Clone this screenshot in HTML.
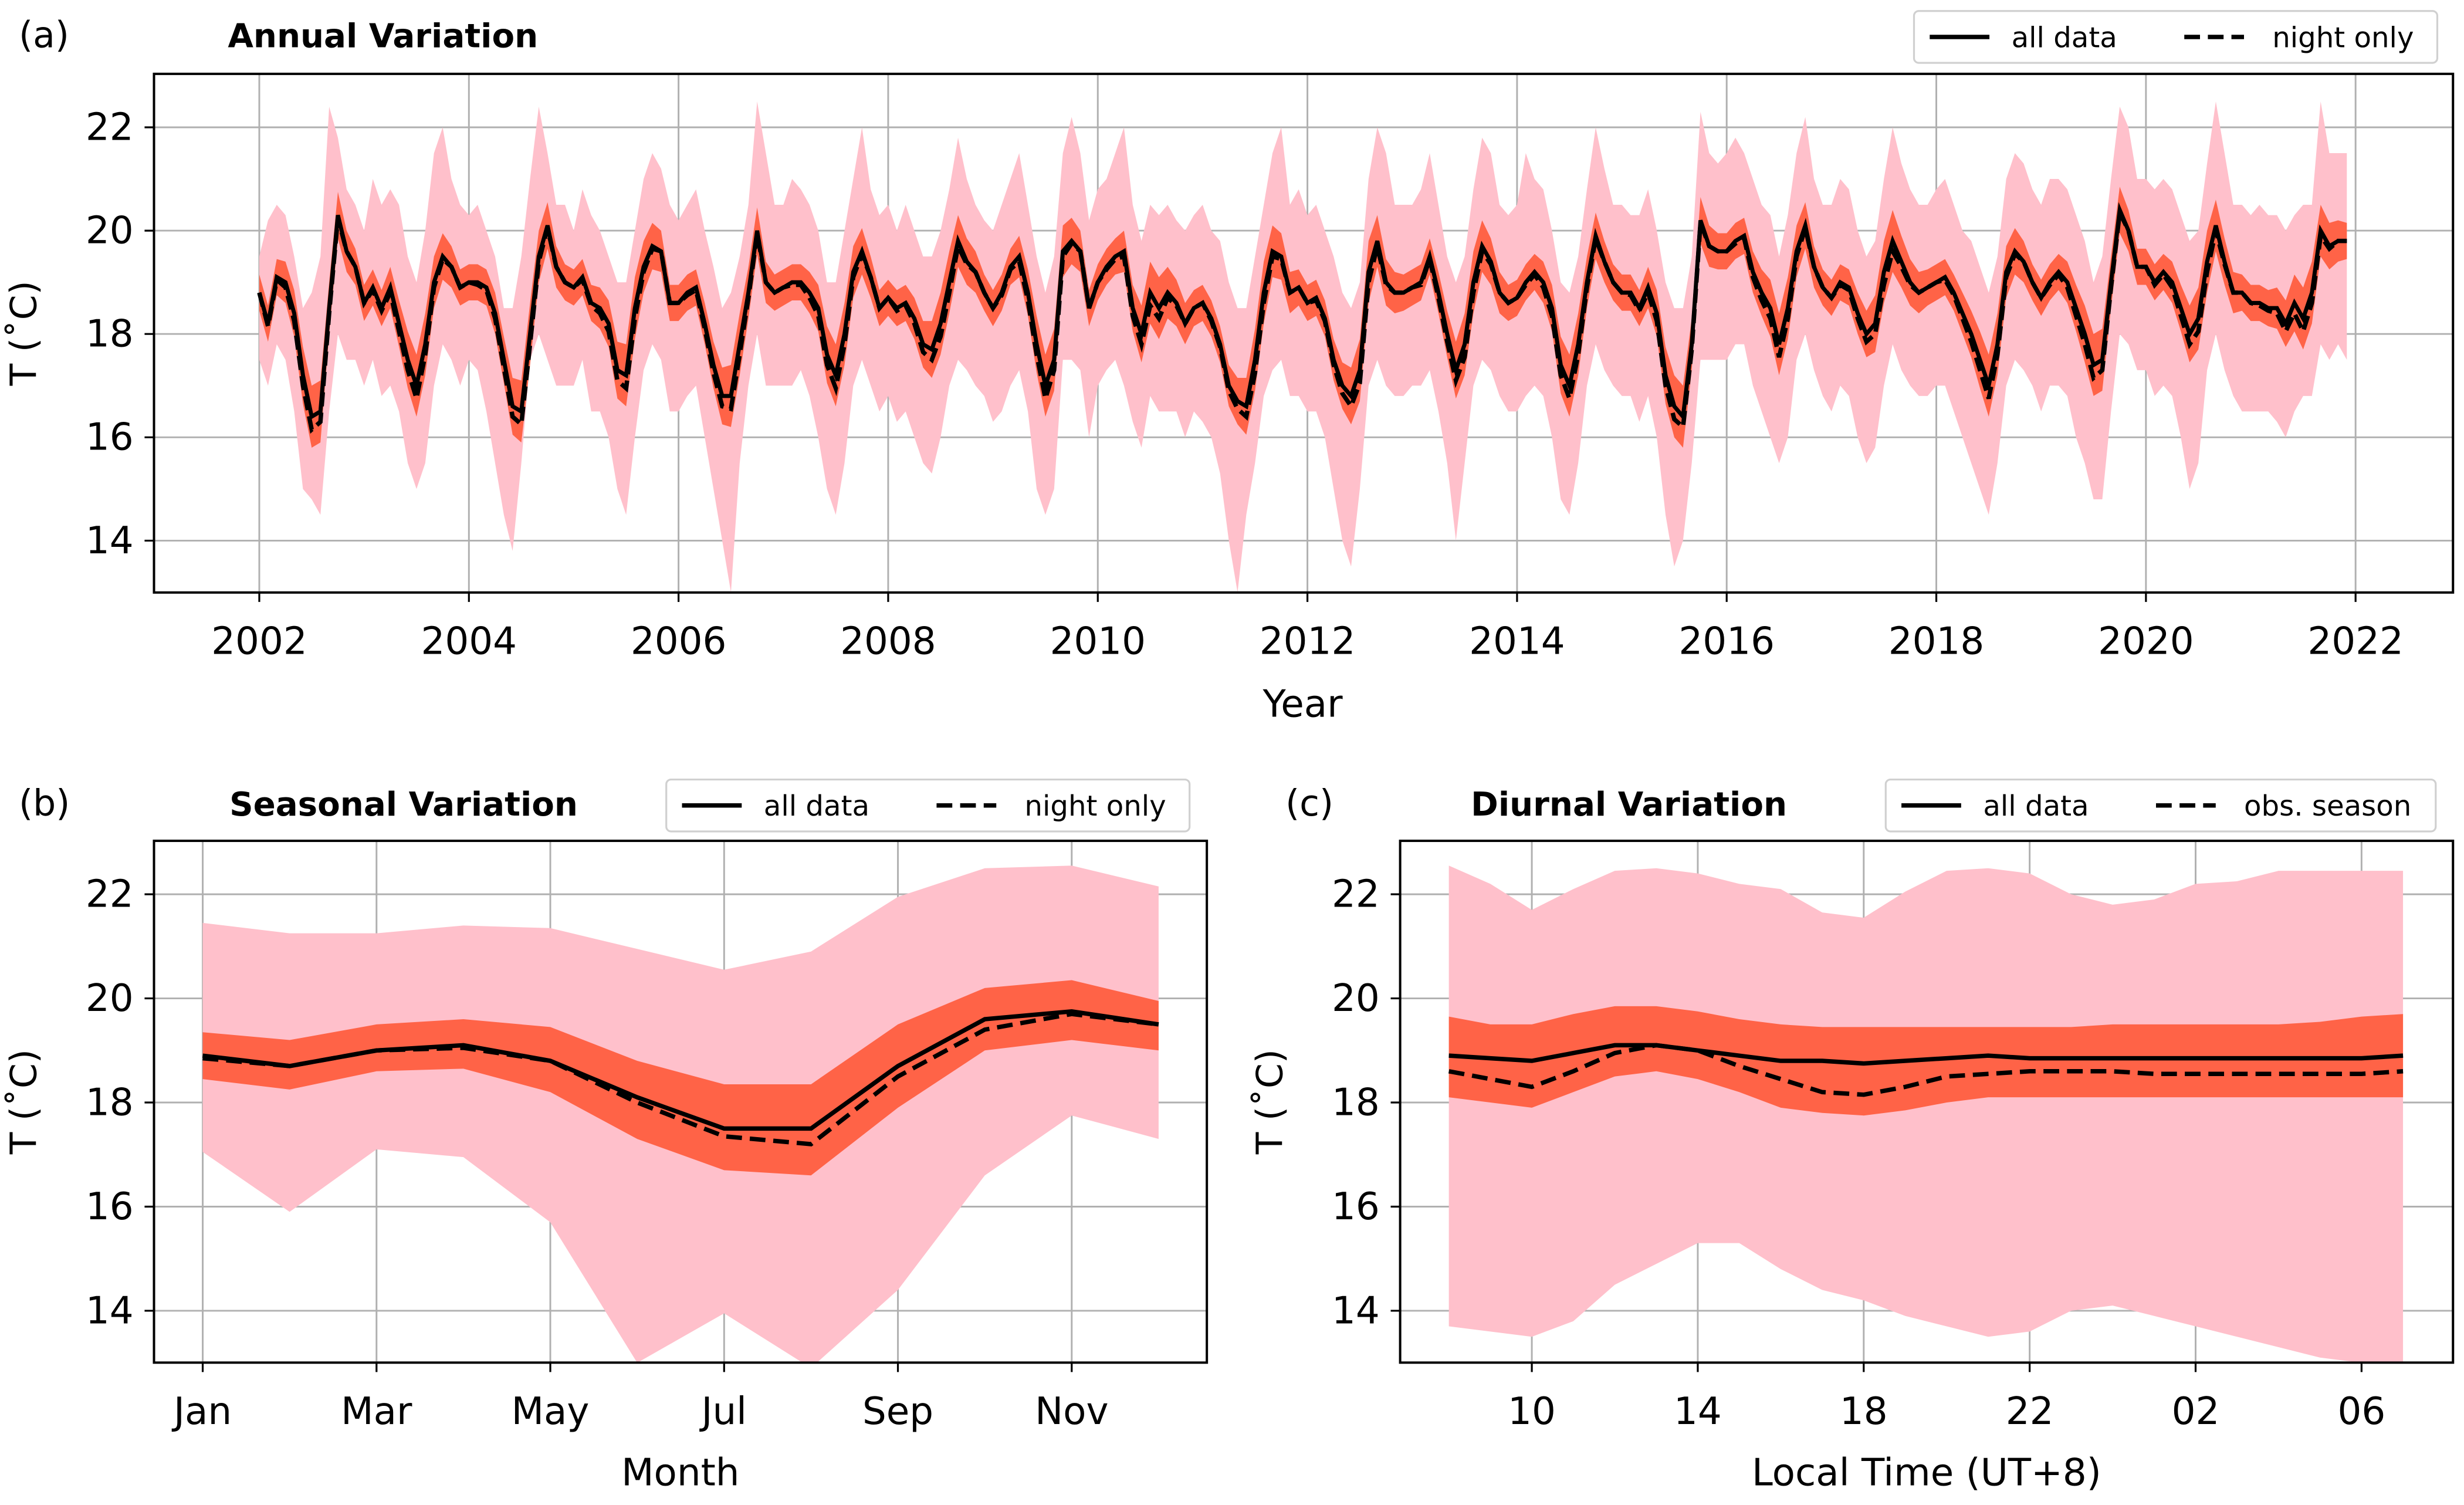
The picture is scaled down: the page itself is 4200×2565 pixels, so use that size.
<!DOCTYPE html>
<html><head><meta charset="utf-8"><style>
html,body{margin:0;padding:0;background:#fff;}
svg{display:block;font-family:"DejaVu Sans","Liberation Sans",sans-serif;}
</style></head><body>
<svg id="fig" width="4200" height="2565" viewBox="0 0 1568 957.6" xmlns="http://www.w3.org/2000/svg">
<defs>
<clipPath id="clipA"><rect x="98" y="47" width="1463" height="330"/></clipPath>
<clipPath id="clipB"><rect x="98" y="535" width="670" height="332"/></clipPath>
<clipPath id="clipC"><rect x="891" y="535" width="670" height="332"/></clipPath>
</defs>
<rect x="0" y="0" width="1568" height="957.6" fill="#fff"/>
<g id="gA"></g>
<g id="gB"></g>
<g id="gC"></g>
</svg>
<script>
// ---------- Panel (a) data ----------
const annualYears = [2002,2003,2004,2005,2006,2007,2008,2009,2010,2011,2012,2013,2014,2015,2016,2017,2018,2019,2020,2021];
const annualMean = [
18.8,18.2,19.1,19.0,18.4,17.2,16.4,16.5,18.5,20.3,19.6,19.3,
18.6,18.9,18.5,18.9,18.2,17.5,17.0,17.8,19.0,19.5,19.3,18.9,
19.0,19.0,18.9,18.4,17.5,16.6,16.5,18.0,19.5,20.1,19.3,19.0,
18.9,19.1,18.6,18.5,18.2,17.3,17.2,18.5,19.3,19.7,19.6,18.6,
18.6,18.8,18.9,18.2,17.4,16.8,16.8,17.8,18.8,20.0,19.0,18.8,
18.9,19.0,19.0,18.8,18.5,17.6,17.2,18.0,19.2,19.6,19.1,18.5,
18.7,18.5,18.6,18.3,17.8,17.7,18.2,19.0,19.8,19.4,19.2,18.8,
18.5,18.8,19.3,19.5,18.8,17.8,17.0,17.5,19.6,19.8,19.6,18.5,
19.0,19.3,19.5,19.6,18.5,18.0,18.8,18.5,18.8,18.6,18.2,18.5,
18.6,18.3,17.8,17.0,16.7,16.6,17.5,18.8,19.6,19.5,18.8,18.9,
18.6,18.7,18.3,17.5,17.0,16.8,17.3,19.2,19.8,19.0,18.8,18.8,
18.9,19.0,19.5,18.8,18.0,17.3,17.8,19.0,19.7,19.4,18.8,18.6,
18.7,19.0,19.2,19.0,18.5,17.4,17.0,17.8,19.0,19.9,19.4,19.0,
18.8,18.8,18.5,18.9,18.4,17.2,16.6,16.4,17.8,20.2,19.7,19.6,
19.6,19.8,19.9,19.2,18.8,18.5,17.8,18.5,19.6,20.1,19.3,18.9,
18.7,19.0,18.9,18.4,18.0,18.2,19.2,19.8,19.4,19.0,18.8,18.9,
19.0,19.1,18.8,18.4,18.0,17.5,17.0,17.8,19.2,19.6,19.4,19.0,
18.7,19.0,19.2,19.0,18.5,18.0,17.4,17.5,19.0,20.4,20.0,19.3,
19.3,19.0,19.2,19.0,18.5,18.0,18.3,19.4,20.1,19.4,18.8,18.8,
18.6,18.6,18.5,18.5,18.2,18.6,18.3,18.8,20.0,19.7,19.8,19.8];
const annualNightOffset = [0,-0.05,-0.05,-0.1,-0.15,-0.2,-0.25,-0.2,-0.1,-0.05,0,0];
const annualDarkWidth = [0.35,0.35,0.35,0.4,0.45,0.55,0.6,0.6,0.5,0.45,0.4,0.35];
const annualPinkHi = [
19.5,20.2,20.5,20.3,19.5,18.5,18.8,19.5,22.4,21.8,20.8,20.5,
20.0,21.0,20.5,20.8,20.5,19.5,19.0,20.0,21.5,22.0,21.0,20.5,
20.3,20.5,20.0,19.5,18.5,18.5,19.5,21.0,22.4,21.5,20.5,20.5,
20.0,20.8,20.3,20.0,19.5,19.0,19.0,20.0,21.0,21.5,21.2,20.5,
20.2,20.5,20.8,20.0,19.3,18.5,18.8,19.5,20.5,22.5,21.5,20.5,
20.5,21.0,20.8,20.5,20.0,19.0,19.0,20.0,21.0,22.0,20.8,20.3,
20.5,20.0,20.5,20.0,19.5,19.5,20.0,20.8,21.8,21.0,20.5,20.2,
20.0,20.5,21.0,21.5,20.5,19.5,18.8,19.5,21.5,22.2,21.5,20.2,
20.8,21.0,21.5,22.0,20.5,19.8,20.5,20.3,20.5,20.2,20.0,20.3,
20.5,20.0,19.8,19.0,18.5,18.5,19.5,20.5,21.5,22.0,20.5,20.8,
20.3,20.5,20.0,19.5,18.8,18.5,19.0,21.0,22.0,21.5,20.5,20.5,
20.5,20.8,21.5,20.5,19.5,19.0,19.5,20.8,21.8,21.5,20.5,20.3,
20.5,21.5,21.0,20.8,20.0,19.0,18.8,19.5,20.8,22.0,21.2,20.5,
20.5,20.3,20.3,20.8,20.0,19.0,18.5,18.5,19.5,22.3,21.5,21.3,
21.5,21.8,21.5,21.0,20.5,20.3,19.5,20.3,21.5,22.2,21.0,20.5,
20.5,21.0,20.8,20.0,19.5,19.8,21.0,22.0,21.3,20.8,20.5,20.5,
20.8,21.0,20.5,20.0,19.8,19.3,18.8,19.5,21.0,21.5,21.3,20.8,
20.5,21.0,21.0,20.8,20.3,19.8,19.0,19.5,21.0,22.4,22.0,21.0,
21.0,20.8,21.0,20.8,20.3,19.8,20.0,21.3,22.5,21.5,20.5,20.5,
20.3,20.5,20.3,20.3,20.0,20.3,20.5,20.5,22.5,21.5,21.5,21.5];
const annualPinkLo = [
17.5,17.0,17.8,17.5,16.5,15.0,14.8,14.5,16.5,18.0,17.5,17.5,
17.0,17.5,16.8,17.0,16.5,15.5,15.0,15.5,17.0,17.8,17.5,17.0,
17.5,17.3,16.5,15.5,14.5,13.8,15.5,17.5,18.0,17.5,17.0,17.0,
17.0,17.5,16.5,16.5,16.0,15.0,14.5,16.0,17.3,17.8,17.5,16.5,
16.5,16.8,17.0,16.0,15.0,14.0,13.0,15.5,17.0,18.0,17.0,17.0,
17.0,17.0,17.3,16.8,16.0,15.0,14.5,15.5,17.0,17.5,17.0,16.5,
16.8,16.3,16.5,16.0,15.5,15.3,16.0,17.0,17.5,17.3,17.0,16.8,
16.3,16.5,17.0,17.3,16.5,15.0,14.5,15.0,17.5,17.5,17.3,16.0,
17.0,17.3,17.5,17.0,16.3,15.8,16.8,16.5,16.5,16.5,16.0,16.5,
16.3,16.0,15.3,14.0,13.0,14.5,15.5,16.8,17.3,17.5,16.8,16.8,
16.5,16.5,16.0,15.0,14.0,13.5,15.0,17.0,17.5,17.0,16.8,16.8,
17.0,17.0,17.3,16.5,15.5,14.0,15.5,17.0,17.5,17.3,16.8,16.5,
16.5,16.8,17.0,16.8,16.0,14.8,14.5,15.5,17.0,17.8,17.3,17.0,
16.8,16.8,16.3,16.8,16.0,14.5,13.5,14.0,15.5,17.5,17.5,17.5,
17.5,17.8,17.8,17.0,16.5,16.0,15.5,16.0,17.5,18.0,17.3,16.8,
16.5,17.0,16.8,16.0,15.5,15.8,17.0,17.8,17.3,17.0,16.8,16.8,
17.0,17.0,16.5,16.0,15.5,15.0,14.5,15.5,17.0,17.5,17.3,17.0,
16.5,17.0,17.0,16.8,16.0,15.5,14.8,14.8,16.5,18.0,17.8,17.3,
17.3,16.8,17.0,16.8,16.0,15.0,15.5,17.3,18.0,17.3,16.8,16.5,
16.5,16.5,16.5,16.3,16.0,16.5,16.8,16.8,17.8,17.5,17.8,17.5];
const annualXTicks = [2002,2004,2006,2008,2010,2012,2014,2016,2018,2020,2022];
const tempTicks = [14,16,18,20,22];

// ---------- Panel (b) data ----------
const monthLabels = ["Jan","Mar","May","Jul","Sep","Nov"];
const monthTickIdx = [0,2,4,6,8,10];
const seasMean  = [18.9,18.7,19.0,19.1,18.8,18.1,17.5,17.5,18.7,19.6,19.75,19.5];
const seasNight = [18.85,18.7,19.0,19.05,18.8,18.0,17.35,17.2,18.5,19.4,19.7,19.5];
const seasDarkHi = [19.35,19.2,19.5,19.6,19.45,18.8,18.35,18.35,19.5,20.2,20.35,19.95];
const seasDarkLo = [18.45,18.25,18.6,18.65,18.2,17.3,16.7,16.6,17.9,19.0,19.2,19.0];
const seasPinkHi = [21.45,21.25,21.25,21.4,21.35,20.95,20.55,20.9,21.95,22.5,22.55,22.15];
const seasPinkLo = [17.05,15.9,17.1,16.95,15.7,13.0,13.95,12.9,14.4,16.6,17.75,17.3];

// ---------- Panel (c) data ----------
const hours = [8,9,10,11,12,13,14,15,16,17,18,19,20,21,22,23,24,25,26,27,28,29,30,31];
const hourTickVals = [10,14,18,22,26,30];
const hourTickLabels = ["10","14","18","22","02","06"];
const diurMean = [18.9,18.85,18.8,18.95,19.1,19.1,19.0,18.9,18.8,18.8,18.75,18.8,18.85,18.9,18.85,18.85,18.85,18.85,18.85,18.85,18.85,18.85,18.85,18.9];
const diurObs  = [18.6,18.45,18.3,18.6,18.95,19.1,19.0,18.7,18.45,18.2,18.15,18.3,18.5,18.55,18.6,18.6,18.6,18.55,18.55,18.55,18.55,18.55,18.55,18.6];
const diurDarkHi = [19.65,19.5,19.5,19.7,19.85,19.85,19.75,19.6,19.5,19.45,19.45,19.45,19.45,19.45,19.45,19.45,19.5,19.5,19.5,19.5,19.5,19.55,19.65,19.7];
const diurDarkLo = [18.1,18.0,17.9,18.2,18.5,18.6,18.45,18.2,17.9,17.8,17.75,17.85,18.0,18.1,18.1,18.1,18.1,18.1,18.1,18.1,18.1,18.1,18.1,18.1];
const diurPinkHi = [22.55,22.2,21.7,22.1,22.45,22.5,22.4,22.2,22.1,21.65,21.55,22.05,22.45,22.5,22.4,22.0,21.8,21.9,22.2,22.25,22.45,22.45,22.45,22.45];
const diurPinkLo = [13.7,13.6,13.5,13.8,14.5,14.9,15.3,15.3,14.8,14.4,14.2,13.9,13.7,13.5,13.6,14.0,14.1,13.9,13.7,13.5,13.3,13.1,13.0,13.0];

const NS="http://www.w3.org/2000/svg";
function mk(parent,tag,attrs,text){const e=document.createElementNS(NS,tag);for(const k in attrs)e.setAttribute(k,attrs[k]);if(text!==undefined)e.textContent=text;parent.appendChild(e);return e;}
function pathLine(xs,ys){return xs.map((x,i)=>(i?"L":"M")+x.toFixed(2)+","+ys[i].toFixed(2)).join("");}
function pathBand(xs,hi,lo){let d=pathLine(xs,hi);for(let i=xs.length-1;i>=0;i--)d+="L"+xs[i].toFixed(2)+","+lo[i].toFixed(2);return d+"Z";}

function axesFrame(g,box,yScale,xTicks,xTickLabels,xScale,clipId){
  const grid=mk(g,"g",{});
  
  
  xTicks.forEach(t=>{const x=xScale(t);mk(grid,"line",{x1:x,x2:x,y1:box.y0,y2:box.y1,stroke:"#b0b0b0","stroke-width":1.1});});
  tempTicks.forEach(t=>{const y=yScale(t);mk(grid,"line",{x1:box.x0,x2:box.x1,y1:y,y2:y,stroke:"#b0b0b0","stroke-width":1.1});});
  const data=mk(g,"g",{"clip-path":"url(#"+clipId+")"});
  return data;
}
function axesTicks(g,box,yScale,xTicks,xTickLabels,xScale){
  mk(g,"rect",{x:box.x0,y:box.y0,width:box.x1-box.x0,height:box.y1-box.y0,fill:"none",stroke:"#000","stroke-width":1.5});
  xTicks.forEach((t,i)=>{const x=xScale(t);
    mk(g,"line",{x1:x,x2:x,y1:box.y1,y2:box.y1+6,stroke:"#000","stroke-width":1.2});
    const tl=mk(g,"text",{x:x,y:box.y1+39,"font-size":24,"text-anchor":"middle",fill:"#000"},xTickLabels[i]);
    
    
  });
  tempTicks.forEach(t=>{const y=yScale(t);
    mk(g,"line",{x1:box.x0-6,x2:box.x0,y1:y,y2:y,stroke:"#000","stroke-width":1.2});
    const tl=mk(g,"text",{x:box.x0-13,y:y+8,"font-size":24,"text-anchor":"end",fill:"#000"},String(t));
    
    
  });
  const yl=mk(g,"text",{x:0,y:0,"font-size":23,"text-anchor":"middle",fill:"#000",transform:"translate("+(box.x0-75)+","+((box.y0+box.y1)/2)+") rotate(-90)"},"T (˚C)");
  
  
}
function legend(g,x,y,w,l1,l2){
  const lg=mk(g,"g",{});
  
  
  mk(lg,"rect",{x:x,y:y,width:w,height:33,rx:3,fill:"#fff",stroke:"#d0d0d0","stroke-width":1.2});
  mk(lg,"line",{x1:x+10,x2:x+48,y1:y+16.5,y2:y+16.5,stroke:"#000","stroke-width":2.8});
  const t1=mk(lg,"text",{x:x+62,y:y+23,"font-size":18,fill:"#000"},l1);
  
  
  mk(lg,"line",{x1:x+172,x2:x+210,y1:y+16.5,y2:y+16.5,stroke:"#000","stroke-width":2.8,"stroke-dasharray":"10,5"});
  const t2=mk(lg,"text",{x:x+228,y:y+23,"font-size":18,fill:"#000"},l2);
  
  
}
function label(g,x,y,txt,size,weight,anchor,name){
  const t=mk(g,"text",{x:x,y:y,"font-size":size,"font-weight":weight||"normal","text-anchor":anchor||"start",fill:"#000"},txt);
  
  
  return t;
}

// ---------- Panel A ----------
(function(){
  const g=document.getElementById("gA");
  const box={x0:98,x1:1561,y0:47,y1:377};
  const xS=yr=>165+(yr-2002)*66.7;
  const yS=v=>81+(22-v)*32.875;
  const data=axesFrame(g,box,yS,annualXTicks,annualXTicks.map(String),xS,"clipA");
  const n=annualMean.length;
  const xs=[],m=[],nt=[],dh=[],dl=[],ph=[],pl=[];
  for(let i=0;i<n;i++){
    const yr=annualYears[Math.floor(i/12)]+(i%12)/12;
    xs.push(xS(yr));
    m.push(yS(annualMean[i]));
    nt.push(yS(annualMean[i]+annualNightOffset[i%12]));
    dh.push(yS(annualMean[i]+annualDarkWidth[i%12]));
    dl.push(yS(annualMean[i]-annualDarkWidth[i%12]));
    ph.push(yS(annualPinkHi[i]));
    pl.push(yS(annualPinkLo[i]));
  }
  const p1=mk(data,"path",{d:pathBand(xs,ph,pl),fill:"#ffc0cb"});
  
  
  const p2=mk(data,"path",{d:pathBand(xs,dh,dl),fill:"#ff6347"});
  
  
  const p3=mk(data,"path",{d:pathLine(xs,nt),fill:"none",stroke:"#000","stroke-width":2.8,"stroke-dasharray":"9,4"});
  
  
  const p4=mk(data,"path",{d:pathLine(xs,m),fill:"none",stroke:"#000","stroke-width":2.6});
  
  
  axesTicks(g,box,yS,annualXTicks,annualXTicks.map(String),xS);
  label(g,829,456,"Year",24,"normal","middle","x-axis-title");
  label(g,145,30,"Annual Variation",21,"bold","start","panel-title");
  label(g,12,30,"(a)",23,"normal","start","panel-label");
  legend(g,1218,7,333,"all data","night only");
})();

// ---------- Panel B ----------
(function(){
  const g=document.getElementById("gB");
  const box={x0:98,x1:768,y0:535,y1:867};
  const xS=i=>129+i*55.3;
  const yS=v=>569+(22-v)*33.125;
  const data=axesFrame(g,box,yS,monthTickIdx,monthLabels,xS,"clipB");
  const xs=seasMean.map((_,i)=>xS(i));
  const p1=mk(data,"path",{d:pathBand(xs,seasPinkHi.map(yS),seasPinkLo.map(yS)),fill:"#ffc0cb"});
  
  
  const p2=mk(data,"path",{d:pathBand(xs,seasDarkHi.map(yS),seasDarkLo.map(yS)),fill:"#ff6347"});
  
  
  const p3=mk(data,"path",{d:pathLine(xs,seasNight.map(yS)),fill:"none",stroke:"#000","stroke-width":2.8,"stroke-dasharray":"10,5"});
  
  
  const p4=mk(data,"path",{d:pathLine(xs,seasMean.map(yS)),fill:"none",stroke:"#000","stroke-width":2.8});
  
  
  axesTicks(g,box,yS,monthTickIdx,monthLabels,xS);
  label(g,433,945,"Month",24,"normal","middle","x-axis-title");
  label(g,146,519,"Seasonal Variation",21,"bold","start","panel-title");
  label(g,12,519,"(b)",23,"normal","start","panel-label");
  legend(g,424,496,333,"all data","night only");
})();

// ---------- Panel C ----------
(function(){
  const g=document.getElementById("gC");
  const box={x0:891,x1:1561,y0:535,y1:867};
  const xS=h=>922+(h-8)*26.4;
  const yS=v=>569+(22-v)*33.125;
  const data=axesFrame(g,box,yS,hourTickVals,hourTickLabels,xS,"clipC");
  const xs=hours.map(xS);
  const p1=mk(data,"path",{d:pathBand(xs,diurPinkHi.map(yS),diurPinkLo.map(yS)),fill:"#ffc0cb"});
  
  
  const p2=mk(data,"path",{d:pathBand(xs,diurDarkHi.map(yS),diurDarkLo.map(yS)),fill:"#ff6347"});
  
  
  const p3=mk(data,"path",{d:pathLine(xs,diurObs.map(yS)),fill:"none",stroke:"#000","stroke-width":2.8,"stroke-dasharray":"10,5"});
  
  
  const p4=mk(data,"path",{d:pathLine(xs,diurMean.map(yS)),fill:"none",stroke:"#000","stroke-width":2.8});
  
  
  axesTicks(g,box,yS,hourTickVals,hourTickLabels,xS);
  label(g,1226,945,"Local Time (UT+8)",24,"normal","middle","x-axis-title");
  label(g,936,519,"Diurnal Variation",21,"bold","start","panel-title");
  label(g,818,519,"(c)",23,"normal","start","panel-label");
  legend(g,1200,496,350,"all data","obs. season");
})();
</script>
</body></html>
